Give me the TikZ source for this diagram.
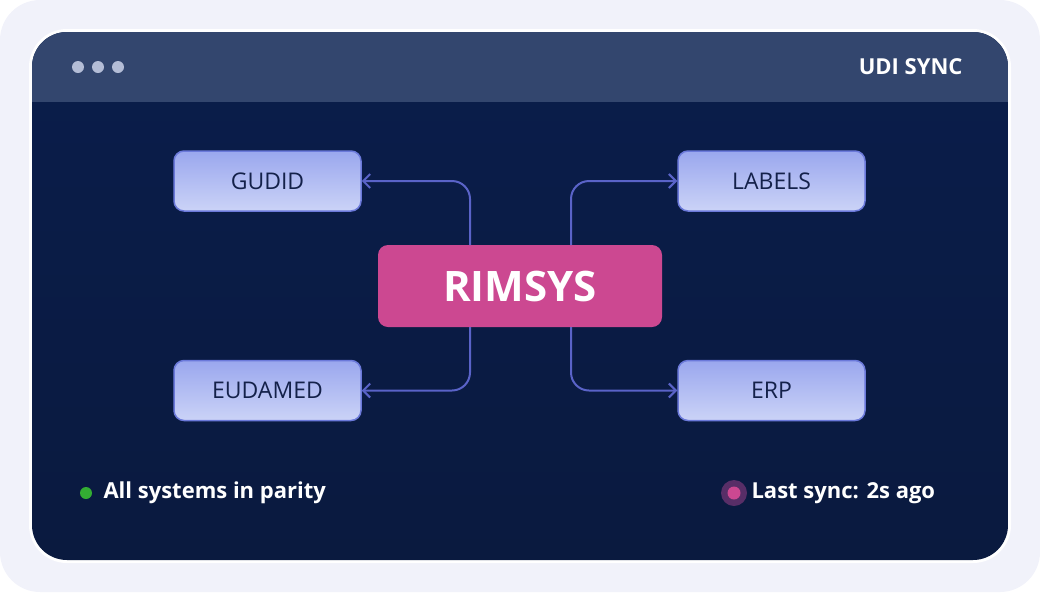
\documentclass[tikz,border=0pt]{standalone}
\usepackage{fontspec}
\setmainfont{Open Sans}
\usetikzlibrary{positioning,arrows.meta}

\definecolor{frameBg}{HTML}{F1F2FA}
\definecolor{barBg}{HTML}{33466E}
\definecolor{bodyTop}{HTML}{0A1D4B}
\definecolor{bodyBot}{HTML}{0A1A3F}
\definecolor{boxTop}{HTML}{9AA7EE}
\definecolor{boxBot}{HTML}{CBD3F7}
\definecolor{boxLine}{HTML}{6B79DA}
\definecolor{boxText}{HTML}{14214A}
\definecolor{hubPink}{HTML}{CC4891}
\definecolor{linkBlue}{HTML}{5A63C8}
\definecolor{dotGrey}{HTML}{B4BDD6}

\tikzset{
  target/.style={draw=boxLine, line width=1.5pt, rounded corners=10pt,
    top color=boxTop, bottom color=boxBot, minimum width=187pt,
    minimum height=60pt, text=boxText, font=\fontsize{23}{26}\selectfont},
  hub/.style={fill=hubPink, rounded corners=10pt, minimum width=284pt,
    minimum height=82pt, text=white, font=\bfseries\fontsize{42}{46}\selectfont},
  link/.style={draw=linkBlue, line width=2pt, rounded corners=18pt,
    -{Straight Barb[length=7pt,width=14pt]}},
  status/.style={text=white, anchor=west, font=\fontsize{22}{26}\selectfont\bfseries}
}

\begin{document}
\begin{tikzpicture}[x=1pt,y=-1pt]
\useasboundingbox (0,0) rectangle (1040,592);

% Frame and window
\fill[frameBg, rounded corners=40pt] (0,0) rectangle (1040,592);
\fill[white, rounded corners=38pt] (29,29) rectangle (1011,563);
\shade[top color=bodyTop, bottom color=bodyBot, rounded corners=35pt] (32,32) rectangle (1008,560);
\begin{scope}
  \clip[rounded corners=35pt] (32,32) rectangle (1008,560);
  \fill[barBg] (32,32) rectangle (1008,102);
\end{scope}
\foreach \x in {78,98,118}
  \fill[dotGrey] (\x,67) circle (6pt);
\node[anchor=east, text=white, font=\bfseries\fontsize{22}{26}\selectfont] (title) at (966,67) {UDI SYNC};

% Nodes
\node[hub] (rimsys) at (520,286) {RIMSYS};
\node[target] (gudid) at (267.5,181) {GUDID};
\node[target] (labels) at (771.5,181) {LABELS};
\node[target] (eudamed) at (267.5,390.5) {EUDAMED};
\node[target] (erp) at (771.5,390.5) {ERP};

% Links
\coordinate (topL) at (470,245);
\coordinate (topR) at (571,245);
\coordinate (botL) at (470,327);
\coordinate (botR) at (571,327);
\draw[link] (topL) |- (gudid.east);
\draw[link] (topR) |- (labels.west);
\draw[link] (botL) |- (eudamed.east);
\draw[link] (botR) |- (erp.west);

% Status line
\fill[green!60!black!80!white] (86,493) circle (6pt);
\node[status] (parity) at (100,493) {All systems in parity};
\fill[hubPink!40!bodyTop] (734,493) circle (13pt);
\fill[hubPink] (734,493) circle (6.5pt);
\node[status] (sync) at (748,493) {Last sync: 2s ago};
\end{tikzpicture}
\end{document}
